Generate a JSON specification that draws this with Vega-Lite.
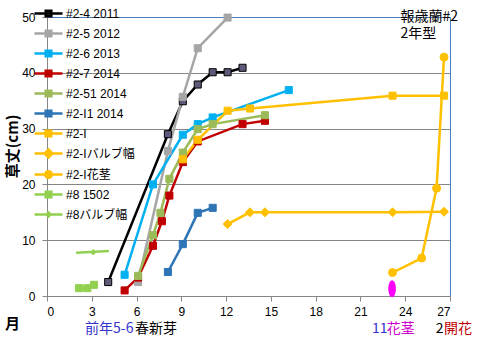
{
  "$schema": "https://vega.github.io/schema/vega-lite/v6.json",
  "width": 403,
  "height": 279,
  "autosize": {"type": "none"},
  "padding": {"left": 47, "top": 17, "right": 34, "bottom": 45},
  "background": "white",
  "config": {
    "view": {"stroke": "#4A7EBB", "strokeWidth": 1},
    "font": "Liberation Sans, Noto Sans CJK JP"
  },
  "datasets": {
    "main": [
      {"series": "#2-4 2011", "x": 4.1, "y": 2.5},
      {"series": "#2-4 2011", "x": 8.1, "y": 29.0},
      {"series": "#2-4 2011", "x": 9.1, "y": 34.9},
      {"series": "#2-4 2011", "x": 10.1, "y": 37.9},
      {"series": "#2-4 2011", "x": 11.1, "y": 40.1},
      {"series": "#2-4 2011", "x": 12.1, "y": 40.1},
      {"series": "#2-4 2011", "x": 13.1, "y": 40.9},
      {"series": "#2-5 2012", "x": 6.1, "y": 2.5},
      {"series": "#2-5 2012", "x": 8.1, "y": 26.0},
      {"series": "#2-5 2012", "x": 9.1, "y": 35.7},
      {"series": "#2-5 2012", "x": 10.1, "y": 44.4},
      {"series": "#2-5 2012", "x": 12.1, "y": 49.9},
      {"series": "#2-6 2013", "x": 5.2, "y": 3.8},
      {"series": "#2-6 2013", "x": 7.1, "y": 20.0},
      {"series": "#2-6 2013", "x": 9.1, "y": 28.9},
      {"series": "#2-6 2013", "x": 10.1, "y": 30.8},
      {"series": "#2-6 2013", "x": 11.1, "y": 32.0},
      {"series": "#2-6 2013", "x": 16.2, "y": 36.9},
      {"series": "#2-7 2014", "x": 5.2, "y": 1.0},
      {"series": "#2-7 2014", "x": 6.1, "y": 3.3},
      {"series": "#2-7 2014", "x": 7.1, "y": 9.0},
      {"series": "#2-7 2014", "x": 7.7, "y": 13.4},
      {"series": "#2-7 2014", "x": 8.2, "y": 18.0},
      {"series": "#2-7 2014", "x": 9.1, "y": 24.0},
      {"series": "#2-7 2014", "x": 10.1, "y": 27.7},
      {"series": "#2-7 2014", "x": 13.1, "y": 30.8},
      {"series": "#2-7 2014", "x": 14.6, "y": 31.4},
      {"series": "#2-51 2014", "x": 6.1, "y": 3.6},
      {"series": "#2-51 2014", "x": 7.1, "y": 10.9},
      {"series": "#2-51 2014", "x": 7.6, "y": 14.9},
      {"series": "#2-51 2014", "x": 8.2, "y": 21.0},
      {"series": "#2-51 2014", "x": 9.1, "y": 25.7},
      {"series": "#2-51 2014", "x": 10.1, "y": 29.9},
      {"series": "#2-51 2014", "x": 11.1, "y": 30.8},
      {"series": "#2-51 2014", "x": 14.6, "y": 32.4},
      {"series": "#2-I1 2014", "x": 8.1, "y": 4.3},
      {"series": "#2-I1 2014", "x": 9.1, "y": 9.3},
      {"series": "#2-I1 2014", "x": 10.1, "y": 14.9},
      {"series": "#2-I1 2014", "x": 11.1, "y": 15.8},
      {"series": "#2-I", "x": 9.1, "y": 24.5},
      {"series": "#2-I", "x": 10.1, "y": 28.0},
      {"series": "#2-I", "x": 12.1, "y": 33.2},
      {"series": "#2-I", "x": 13.6, "y": 33.6},
      {"series": "#2-I", "x": 23.15, "y": 35.9},
      {"series": "#2-I", "x": 26.6, "y": 35.9},
      {"series": "#2-Iバルブ幅", "x": 12.1, "y": 12.9},
      {"series": "#2-Iバルブ幅", "x": 13.6, "y": 15.0},
      {"series": "#2-Iバルブ幅", "x": 14.6, "y": 15.0},
      {"series": "#2-Iバルブ幅", "x": 23.15, "y": 15.0},
      {"series": "#2-Iバルブ幅", "x": 26.6, "y": 15.1},
      {"series": "#2-I花茎", "x": 23.15, "y": 4.2},
      {"series": "#2-I花茎", "x": 25.1, "y": 6.8},
      {"series": "#2-I花茎", "x": 26.1, "y": 19.3},
      {"series": "#2-I花茎", "x": 26.6, "y": 42.8},
      {"series": "#8 1502", "x": 2.15, "y": 1.4},
      {"series": "#8 1502", "x": 2.7, "y": 1.4},
      {"series": "#8 1502", "x": 3.15, "y": 2.0},
      {"series": "#8バルブ幅", "x": 3.1, "y": 7.85, "xlo": 1.95, "ylo": 7.75, "xhi": 4.15, "yhi": 8.05}
    ],
    "blue": [
      {"x": 2.55, "y": -5.9, "t": "前年5-6"},
      {"x": 21.77, "y": -5.9, "t": "11"}
    ],
    "black": [
      {"x": 5.9, "y": -5.9, "t": "春新芽"},
      {"x": 26.05, "y": -5.9, "t": "2"},
      {"x": 23.69, "y": 50.05, "t": "報歳蘭#2"},
      {"x": 23.69, "y": 46.9, "t": "2年型"}
    ],
    "magenta": [{"x": 22.77, "y": -5.9, "t": "花茎"}],
    "red": [{"x": 26.59, "y": -5.9, "t": "開花"}],
    "month": [{"x": -2.31, "y": -5.0, "t": "月"}],
    "mark": [{"x": 23.12, "y": 1.3}]
  },
  "layer": [
    {
      "data": {"name": "main"},
      "mark": {"type": "line", "strokeWidth": 2.5},
      "encoding": {
        "x": {
          "field": "x", "type": "quantitative",
          "scale": {"domain": [0, 27], "nice": false, "zero": false},
          "axis": {
            "values": [0, 3, 6, 9, 12, 15, 18, 21, 24, 27],
            "title": null, "grid": false, "tickSize": 5,
            "tickColor": "#868686", "domainColor": "#868686",
            "labelFontSize": 12, "labelColor": "#000", "labelPadding": 5,
            "labelFont": "Liberation Sans"
          }
        },
        "y": {
          "field": "y", "type": "quantitative",
          "scale": {"domain": [0, 50], "nice": false},
          "axis": {
            "values": [0, 5, 10, 15, 20, 25, 30, 35, 40, 45, 50],
            "title": "草丈(cm)", "titleFont": "Noto Sans CJK JP", "titleFontSize": 15,
            "titleFontWeight": "bold", "titleColor": "#000",
            "titleX": -35, "titleY": 129, "titleAngle": -90,
            "titleAlign": "center", "titleBaseline": "middle",
            "grid": true,
            "gridColor": {"condition": {"test": "datum.value === 50", "value": "#4A7EBB"}, "value": "#868686"},
            "tickSize": 5, "tickColor": "#868686", "domainColor": "#868686",
            "labelFontSize": 12, "labelColor": "#000", "labelPadding": 7,
            "labelFont": "Liberation Sans"
          }
        },
        "stroke": {
          "field": "series", "type": "nominal",
          "scale": {
            "domain": ["#2-4 2011", "#2-5 2012", "#2-6 2013", "#2-7 2014", "#2-51 2014", "#2-I1 2014", "#2-I", "#2-Iバルブ幅", "#2-I花茎", "#8 1502", "#8バルブ幅"],
            "range": ["#000000", "#A6A6A6", "#00B0F0", "#C00000", "#9BBB59", "#2E75B6", "#FFC000", "#FFC000", "#FFC000", "#92D050", "#92D050"]
          }
        }
      }
    },
    {
      "data": {"name": "main"},
      "transform": [{"filter": "isValid(datum.xlo)"}],
      "mark": {"type": "rule", "strokeWidth": 2.5, "color": "#92D050"},
      "encoding": {
        "x": {"field": "xlo", "type": "quantitative"},
        "x2": {"field": "xhi"},
        "y": {"field": "ylo", "type": "quantitative"},
        "y2": {"field": "yhi"}
      }
    },
    {
      "data": {"name": "main"},
      "transform": [{"filter": "indexof(['#2-Iバルブ幅', '#2-I花茎', '#8バルブ幅'], datum.series) < 0"}],
      "mark": {"type": "point", "filled": true, "shape": "square", "size": 50, "strokeWidth": 1, "opacity": 1},
      "encoding": {
        "x": {"field": "x", "type": "quantitative"},
        "y": {"field": "y", "type": "quantitative"},
        "stroke": {"field": "series", "type": "nominal"},
        "fill": {
          "field": "series", "type": "nominal",
          "scale": {
            "domain": ["#2-4 2011", "#2-5 2012", "#2-6 2013", "#2-7 2014", "#2-51 2014", "#2-I1 2014", "#2-I", "#2-Iバルブ幅", "#2-I花茎", "#8 1502", "#8バルブ幅"],
            "range": ["#605A7A", "#A6A6A6", "#00B0F0", "#C00000", "#9BBB59", "#2E75B6", "#FFC000", "#FFC000", "#FFC000", "#92D050", "#92D050"]
          }
        }
      }
    },
    {
      "data": {"name": "main"},
      "transform": [{"filter": "datum.series === '#2-Iバルブ幅'"}],
      "mark": {"type": "point", "filled": true, "shape": "diamond", "size": 81, "strokeWidth": 1, "opacity": 1},
      "encoding": {
        "x": {"field": "x", "type": "quantitative"},
        "y": {"field": "y", "type": "quantitative"},
        "stroke": {"field": "series", "type": "nominal"},
        "fill": {"field": "series", "type": "nominal"}
      }
    },
    {
      "data": {"name": "main"},
      "transform": [{"filter": "datum.series === '#2-I花茎'"}],
      "mark": {"type": "point", "filled": true, "shape": "circle", "size": 64, "strokeWidth": 1, "opacity": 1},
      "encoding": {
        "x": {"field": "x", "type": "quantitative"},
        "y": {"field": "y", "type": "quantitative"},
        "stroke": {"field": "series", "type": "nominal"},
        "fill": {"field": "series", "type": "nominal"}
      }
    },
    {
      "data": {"name": "main"},
      "transform": [{"filter": "datum.series === '#8バルブ幅'"}],
      "mark": {"type": "point", "filled": true, "shape": "diamond", "size": 30, "strokeWidth": 1, "opacity": 1},
      "encoding": {
        "x": {"field": "x", "type": "quantitative"},
        "y": {"field": "y", "type": "quantitative"},
        "stroke": {"field": "series", "type": "nominal"},
        "fill": {"field": "series", "type": "nominal"}
      }
    },
    {
      "data": {"name": "main"},
      "transform": [{"filter": "false"}],
      "mark": {"type": "point", "filled": true, "opacity": 1},
      "encoding": {
        "x": {"field": "x", "type": "quantitative"},
        "y": {"field": "y", "type": "quantitative"},
        "stroke": {
          "field": "series", "type": "nominal",
          "legend": {
            "orient": "none", "legendX": -10, "legendY": -15, "padding": 0, "title": null,
            "symbolSize": 400, "symbolStrokeWidth": 2.5,
            "labelFont": "Liberation Sans, Noto Sans CJK JP", "labelFontSize": 12,
            "labelColor": "#000", "labelOffset": 6, "rowPadding": 0
          }
        },
        "fill": {
          "field": "series", "type": "nominal",
          "legend": {
            "orient": "none", "legendX": -10, "legendY": -15, "padding": 0, "title": null,
            "symbolSize": 400, "symbolStrokeWidth": 2.5,
            "labelFont": "Liberation Sans, Noto Sans CJK JP", "labelFontSize": 12,
            "labelColor": "#000", "labelOffset": 6, "rowPadding": 0
          }
        },
        "shape": {
          "field": "series", "type": "nominal",
          "scale": {
            "domain": ["#2-4 2011", "#2-5 2012", "#2-6 2013", "#2-7 2014", "#2-51 2014", "#2-I1 2014", "#2-I", "#2-Iバルブ幅", "#2-I花茎", "#8 1502", "#8バルブ幅"],
            "range": [
              "M-1.4,0H1.4M-0.28,-0.28H0.28V0.28H-0.28Z",
              "M-1.4,0H1.4M-0.28,-0.28H0.28V0.28H-0.28Z",
              "M-1.4,0H1.4M-0.28,-0.28H0.28V0.28H-0.28Z",
              "M-1.4,0H1.4M-0.28,-0.28H0.28V0.28H-0.28Z",
              "M-1.4,0H1.4M-0.28,-0.28H0.28V0.28H-0.28Z",
              "M-1.4,0H1.4M-0.28,-0.28H0.28V0.28H-0.28Z",
              "M-1.4,0H1.4M-0.28,-0.28H0.28V0.28H-0.28Z",
              "M-1.4,0H1.4M0,-0.4L0.4,0L0,0.4L-0.4,0Z",
              "M-1.4,0H1.4M0.33,0A0.33,0.33,0,1,1,-0.33,0A0.33,0.33,0,1,1,0.33,0Z",
              "M-1.4,0H1.4M-0.28,-0.28H0.28V0.28H-0.28Z",
              "M-1.4,0H1.4M0,-0.2L0.2,0L0,0.2L-0.2,0Z"
            ]
          },
          "legend": {
            "orient": "none", "legendX": -10, "legendY": -15, "padding": 0, "title": null,
            "symbolSize": 400, "symbolStrokeWidth": 2.5,
            "labelFont": "Liberation Sans, Noto Sans CJK JP", "labelFontSize": 12,
            "labelColor": "#000", "labelOffset": 6, "rowPadding": 0
          }
        }
      }
    },
    {
      "data": {"name": "mark"},
      "mark": {"type": "point", "filled": true, "size": 289, "color": "#FF00FF", "opacity": 1, "shape": "M0,-1A0.45,1,0,1,1,0,1A0.45,1,0,1,1,0,-1Z"},
      "encoding": {
        "x": {"field": "x", "type": "quantitative"},
        "y": {"field": "y", "type": "quantitative"}
      }
    },
    {
      "data": {"name": "blue"},
      "mark": {"type": "text", "align": "left", "baseline": "middle", "font": "Noto Sans CJK JP", "fontSize": 14, "color": "#3333CC"},
      "encoding": {
        "x": {"field": "x", "type": "quantitative"},
        "y": {"field": "y", "type": "quantitative"},
        "text": {"field": "t"}
      }
    },
    {
      "data": {"name": "black"},
      "mark": {"type": "text", "align": "left", "baseline": "middle", "font": "Noto Sans CJK JP", "fontSize": 14, "color": "#000000"},
      "encoding": {
        "x": {"field": "x", "type": "quantitative"},
        "y": {"field": "y", "type": "quantitative"},
        "text": {"field": "t"}
      }
    },
    {
      "data": {"name": "magenta"},
      "mark": {"type": "text", "align": "left", "baseline": "middle", "font": "Noto Sans CJK JP", "fontSize": 14, "color": "#CC00CC"},
      "encoding": {
        "x": {"field": "x", "type": "quantitative"},
        "y": {"field": "y", "type": "quantitative"},
        "text": {"field": "t"}
      }
    },
    {
      "data": {"name": "red"},
      "mark": {"type": "text", "align": "left", "baseline": "middle", "font": "Noto Sans CJK JP", "fontSize": 14, "color": "#C00000"},
      "encoding": {
        "x": {"field": "x", "type": "quantitative"},
        "y": {"field": "y", "type": "quantitative"},
        "text": {"field": "t"}
      }
    },
    {
      "data": {"name": "month"},
      "mark": {"type": "text", "align": "center", "baseline": "middle", "font": "Noto Sans CJK JP", "fontSize": 15, "fontWeight": "bold", "color": "#000000"},
      "encoding": {
        "x": {"field": "x", "type": "quantitative"},
        "y": {"field": "y", "type": "quantitative"},
        "text": {"field": "t"}
      }
    }
  ]
}
